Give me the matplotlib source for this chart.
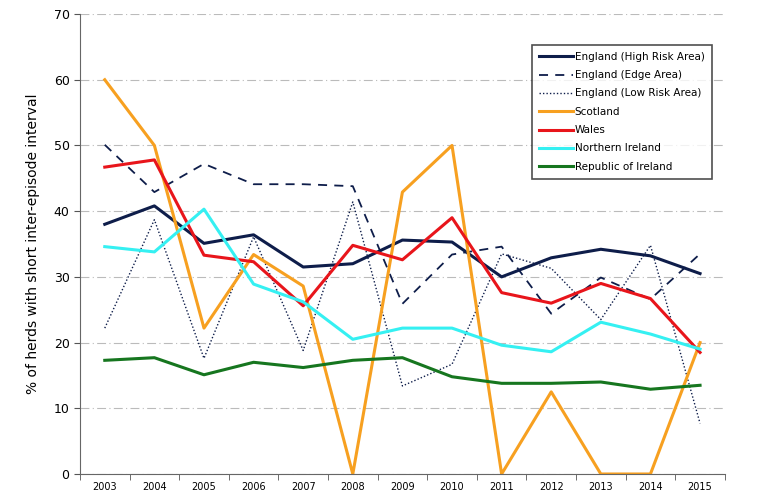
import matplotlib
matplotlib.use("Agg")
import matplotlib.pyplot as plt

years = ["2003", "2004", "2005", "2006", "2007", "2008", "2009",
         "2010", "2011", "2012", "2013", "2014", "2015"]

eng_high = [38.0, 40.8, 35.1, 36.4, 31.5, 32.0, 35.6, 35.3, 30.0, 32.9, 34.2, 33.2, 30.5]
eng_edge = [50.1, 42.9, 47.2, 44.1, 44.1, 43.8, 25.9, 33.4, 34.6, 24.4, 29.9, 26.6, 33.5]
eng_low = [22.2, 38.7, 17.6, 36.1, 18.8, 41.4, 13.4, 16.7, 33.5, 31.3, 23.5, 34.8, 7.7]
scotland = [60.0, 50.0, 22.2, 33.4, 28.6, 0.0, 42.9, 50.0, 0.0, 12.5, 0.0, 0.0, 20.0]
wales = [46.7, 47.8, 33.3, 32.3, 25.6, 34.8, 32.6, 39.0, 27.6, 26.0, 29.0, 26.7, 18.5]
n_ireland = [34.6, 33.8, 40.3, 28.9, 26.2, 20.5, 22.2, 22.2, 19.6, 18.6, 23.1, 21.3, 19.0]
roi = [17.3, 17.7, 15.1, 17.0, 16.2, 17.3, 17.7, 14.8, 13.8, 13.8, 14.0, 12.9, 13.5]

navy = "#0e1d4a"
series = [
    ("England (High Risk Area)", eng_high, navy, "-", 2.2),
    ("England (Edge Area)", eng_edge, navy, (0, (5, 4)), 1.3),
    ("England (Low Risk Area)", eng_low, navy, (0, (1, 1.5)), 1.0),
    ("Scotland", scotland, "#f7a020", "-", 2.2),
    ("Wales", wales, "#e8151b", "-", 2.2),
    ("Northern Ireland", n_ireland, "#35f0f2", "-", 2.2),
    ("Republic of Ireland", roi, "#16761f", "-", 2.2),
]

fig = plt.figure(figsize=(7.63, 4.99), dpi=100)
ax = fig.add_axes([0.1048, 0.0501, 0.8452, 0.9218])

x = list(range(len(years)))
for label, vals, col, ls, lw in series:
    ax.plot(x, vals, color=col, linestyle=ls, linewidth=lw, label=label)

ax.set_xlim(-0.5, len(years) - 0.5)
ax.set_ylim(0, 70)
ax.set_yticks(range(0, 71, 10))
ax.set_xticks(x)
ax.set_xticklabels(years, fontsize=7)
ax.set_xticks([i - 0.5 for i in range(len(years) + 1)], minor=True)
ax.tick_params(axis="x", which="major", length=0, pad=6)
ax.tick_params(axis="x", which="minor", length=4, direction="out", color="#555555")
ax.tick_params(axis="y", length=4, direction="out", labelsize=9, color="#555555")

ax.grid(axis="y", color="#bbbbbb", linestyle=(0, (8, 3, 1, 3)), linewidth=0.8)
ax.set_axisbelow(True)
for s in ["top", "right"]:
    ax.spines[s].set_visible(False)
for s in ["left", "bottom"]:
    ax.spines[s].set_color("#666666")

ax.set_ylabel("% of herds with short inter-episode interval", fontsize=10, labelpad=10)

leg = ax.legend(loc="upper right", bbox_to_anchor=(0.988, 0.945), fontsize=7.5,
                frameon=True, fancybox=False, edgecolor="#222222", handlelength=3.2,
                handletextpad=0.2, labelspacing=0.8, borderpad=0.7)
leg.get_frame().set_linewidth(1.2)

fig.savefig("out.png", dpi=100)
